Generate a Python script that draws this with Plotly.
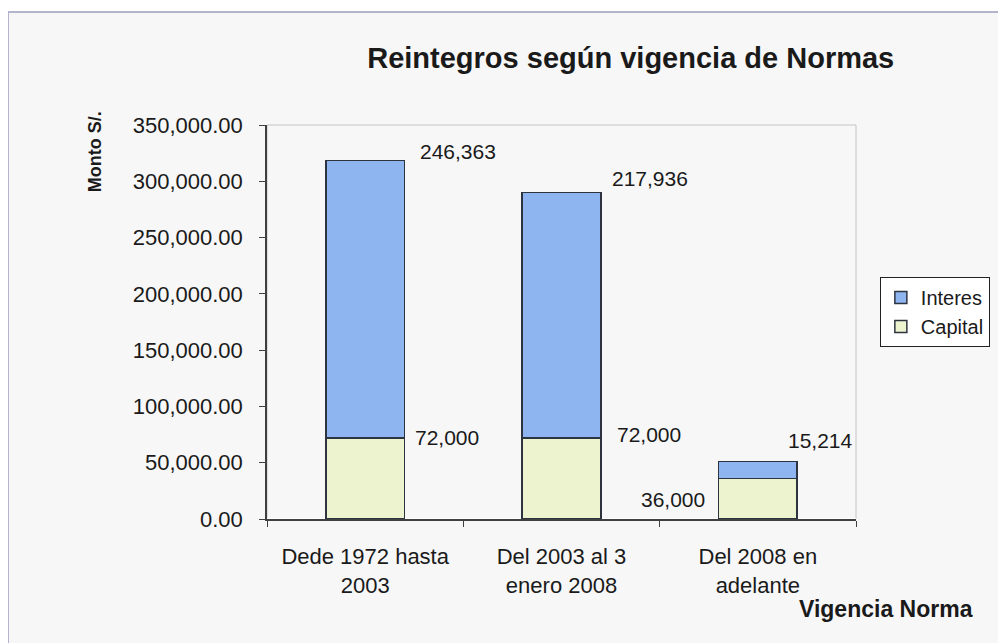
import plotly.graph_objects as go

categories = ["Dede 1972 hasta<br>2003", "Del 2003 al 3<br>enero 2008", "Del 2008 en<br>adelante"]
capital = [72000, 72000, 36000]
interes = [246363, 217936, 15214]
y_ticks = [0, 50000, 100000, 150000, 200000, 250000, 300000, 350000]

# label offsets (px): (xanchor, xshift, yshift)
cap_label_pos = [("left", 48, 0), ("left", 53, 3), ("right", -51, -21)]
int_label_pos = [("left", 53, 9), ("left", 48, 14), ("left", 28, 21)]

FONT = "Arial, Liberation Sans, sans-serif"
INK = "#1a1a1a"
EDGE = "#2e3340"

fig = go.Figure()
fig.add_trace(go.Bar(name="Capital", x=categories, y=capital,
                     marker=dict(color="#EEF3CF", line=dict(color=EDGE, width=1.5))))
fig.add_trace(go.Bar(name="Interes", x=categories, y=interes,
                     marker=dict(color="#8FB5F0", line=dict(color=EDGE, width=1.5))))

ann = []
for i, c in enumerate(categories):
    xa, xs, ys = cap_label_pos[i]
    ann.append(dict(x=c, y=capital[i], xref="x", yref="y", text=f"{capital[i]:,}",
                    showarrow=False, xanchor=xa, yanchor="middle", xshift=xs, yshift=ys,
                    font=dict(family=FONT, size=21, color=INK)))
    xa, xs, ys = int_label_pos[i]
    ann.append(dict(x=c, y=capital[i] + interes[i], xref="x", yref="y", text=f"{interes[i]:,}",
                    showarrow=False, xanchor=xa, yanchor="middle", xshift=xs, yshift=ys,
                    font=dict(family=FONT, size=21, color=INK)))

ann.append(dict(text="<b>Monto S/.</b>", xref="paper", yref="paper", x=-0.292, y=0.931,
                textangle=-90, showarrow=False, xanchor="center", yanchor="middle",
                font=dict(family=FONT, size=18, color=INK)))
ann.append(dict(text="<b>Vigencia Norma</b>", xref="paper", yref="paper", x=1.051, y=-0.228,
                showarrow=False, xanchor="center", yanchor="middle",
                font=dict(family=FONT, size=23, color=INK)))

shapes = [
    dict(type="rect", xref="paper", yref="paper", x0=-0.4397, x1=1.28, y0=-0.36, y1=1.287,
         line=dict(color="#b4b4cc", width=2), fillcolor="#f7f7f7", layer="below"),
    dict(type="rect", xref="paper", yref="paper", x0=0, x1=1, y0=0, y1=1,
         line=dict(color="#c4c4c4", width=1), layer="below"),
]

fig.update_layout(
    width=1006, height=643,
    margin=dict(l=259, r=158, t=117, b=132),
    paper_bgcolor="white", plot_bgcolor="white",
    barmode="stack", bargap=0.6,
    font=dict(family=FONT, color=INK),
    title=dict(text="<b>Reintegros según vigencia de Normas</b>", x=0.619, xref="container",
               y=0.922, yref="container", xanchor="center", yanchor="middle",
               font=dict(family=FONT, size=29, color=INK)),
    legend=dict(x=1.0405, y=0.614, xanchor="left", yanchor="top", traceorder="reversed",
                bgcolor="white", bordercolor="#222", borderwidth=1,
                font=dict(family=FONT, size=20, color=INK)),
    annotations=ann, shapes=shapes,
)
fig.update_xaxes(showgrid=False, showline=True, linecolor="#404040", linewidth=1.5,
                 ticks="outside", tickson="boundaries", ticklen=6, tickcolor="#404040",
                 ticklabelstandoff=17,
                 tickfont=dict(family=FONT, size=22, color=INK))
fig.update_yaxes(range=[0, 350000], tickvals=y_ticks, tickformat=",.2f", showgrid=False,
                 showline=True, linecolor="#404040", linewidth=1.5, ticks="outside",
                 ticklen=6, tickcolor="#404040", ticklabelstandoff=12,
                 tickfont=dict(family=FONT, size=22, color=INK))

fig.write_html("out.html")
